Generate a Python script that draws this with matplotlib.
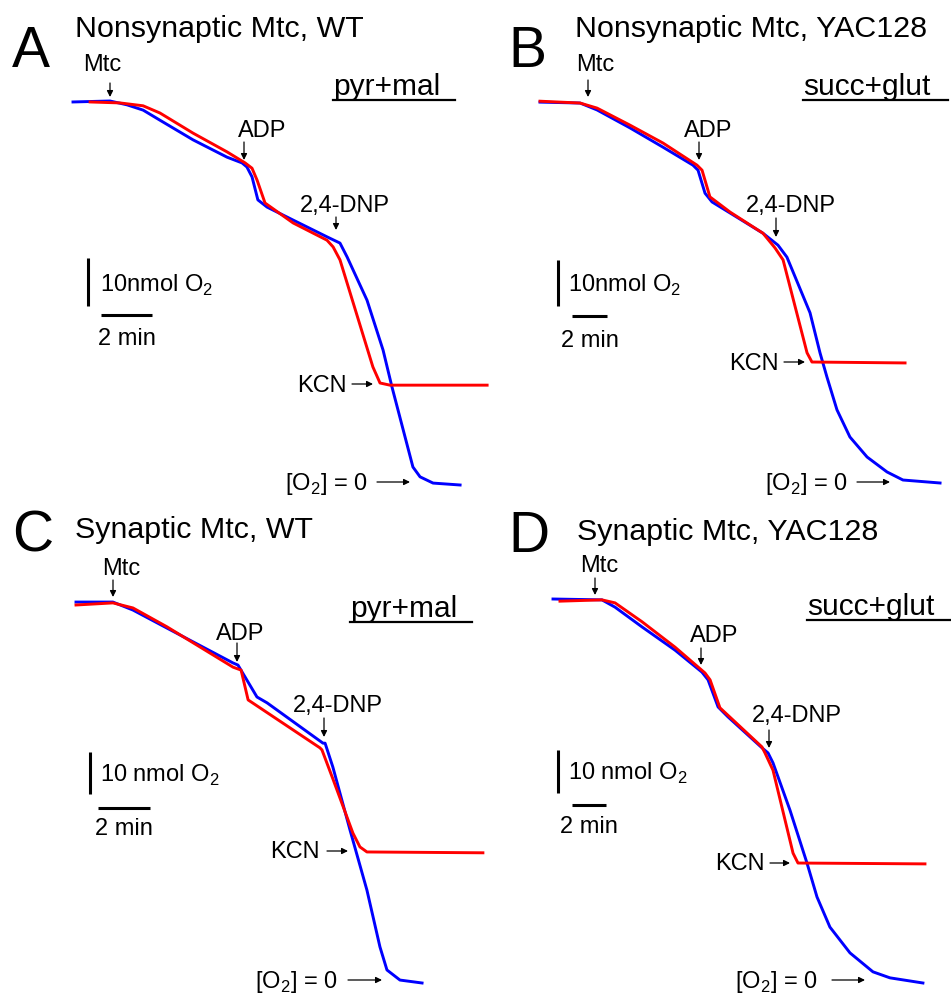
import numpy as np
import matplotlib.pyplot as plt

plt.rcParams['font.family'] = ['Liberation Sans', 'DejaVu Sans']
plt.rcParams['mathtext.fontset'] = 'custom'
plt.rcParams['mathtext.rm'] = 'Liberation Sans'

# O2 traces: time (min) vs O2 in chamber (nmol)
# panel A - nonsynaptic, WT, pyr+mal
a_blue_t = [0, 1.45, 2.12, 2.75, 3.41, 4.71, 6.04, 6.63, 6.82, 7.02, 7.25, 7.61, 8.63, 9.96, 10.47,
            10.75, 11.53, 12.16, 12.51, 13.33, 13.61, 14.12, 15.18]
a_blue_o2 = [79.8, 80.0, 79.2, 78.1, 76.0, 71.9, 68.3, 67.1, 66.25, 64.2, 59.4, 57.9, 55.2, 51.7, 50.4,
             47.5, 38.5, 28.1, 20.4, 3.75, 1.7, 0.4, 0]
a_red_t = [0.67, 1.84, 2.75, 3.41, 4.71, 6.04, 6.75, 7.02, 7.22, 7.53, 8.63, 9.96, 10.20, 10.47,
           11.76, 12.04, 12.43, 16.24]
a_red_o2 = [79.8, 79.6, 79.0, 77.5, 73.3, 69.4, 67.1, 66.0, 63.5, 58.75, 54.6, 51.0, 49.6, 46.9,
            24.6, 21.25, 20.8, 20.8]

# panel B - nonsynaptic, YAC128, succ+glut
b_blue_t = [0, 2.29, 3.26, 5.14, 7.03, 8.74, 9.03, 9.43, 9.83, 10.86, 12.74, 13.6, 14.11, 15.43,
            16.0, 16.4, 16.97, 17.71, 18.69, 19.83, 20.74, 22.86]
b_blue_o2 = [82.8, 82.6, 81.1, 77.2, 73.0, 69.1, 68.0, 63.0, 61.1, 58.7, 54.3, 51.7, 49.1, 37.0,
             28.3, 23.0, 15.9, 10.0, 5.65, 2.4, 0.65, 0]
b_red_t = [0, 2.29, 3.26, 5.14, 7.03, 8.97, 9.26, 9.71, 10.86, 12.74, 13.43, 13.89, 15.26, 15.54, 20.86]
b_red_o2 = [83.0, 82.6, 81.5, 77.8, 73.9, 69.1, 68.0, 62.2, 58.9, 54.3, 51.1, 48.5, 28.3, 26.3, 26.1]

# panel C - synaptic, WT, pyr+mal
c_blue_t = [0, 1.42, 2.19, 3.5, 6.04, 6.23, 6.96, 7.35, 9.5, 9.58, 9.88, 10.54, 11.19, 11.69,
            11.96, 12.46, 13.31]
c_blue_o2 = [90.7, 90.7, 88.8, 84.5, 76.2, 75.7, 68.1, 66.7, 57.1, 57.1, 51.4, 36.4, 22.1, 8.6,
             3.1, 0.7, 0]
c_red_t = [0, 1.42, 2.19, 3.5, 6.04, 6.35, 6.62, 9.38, 9.46, 9.88, 10.65, 10.92, 11.19, 15.65]
c_red_o2 = [90.0, 90.5, 89.3, 84.8, 75.2, 74.5, 67.4, 56.0, 55.5, 48.6, 35.7, 32.4, 31.2, 31.0]

# panel D - synaptic, YAC128, succ+glut
d_blue_t = [0, 2.88, 3.65, 5.24, 7.18, 8.76, 9.12, 9.71, 10.29, 12.29, 12.65, 12.94, 13.94, 14.94,
            15.53, 16.29, 17.47, 18.82, 19.82, 21.76]
d_blue_o2 = [89.3, 89.1, 87.4, 82.8, 77.4, 72.3, 70.5, 64.2, 61.9, 54.7, 53.5, 51.2, 40.2, 27.9,
             20.0, 13.0, 7.0, 2.6, 1.2, 0]
d_red_t = [0.41, 2.88, 3.65, 5.24, 7.18, 8.94, 9.24, 9.82, 12.29, 12.47, 12.94, 14.12, 14.41, 21.88]
d_red_o2 = [88.8, 89.1, 88.4, 84.0, 78.1, 72.1, 70.5, 64.0, 54.9, 53.5, 49.5, 30.2, 27.9, 27.7]

letters = ['A', 'B', 'C', 'D']
titles = ['Nonsynaptic Mtc, WT', 'Nonsynaptic Mtc, YAC128',
          'Synaptic Mtc, WT', 'Synaptic Mtc, YAC128']
substrates = ['pyr+mal', 'succ+glut', 'pyr+mal', 'succ+glut']
scale_labels = [r'10nmol O$_{\mathregular{2}}$', r'10nmol O$_{\mathregular{2}}$',
                r'10 nmol O$_{\mathregular{2}}$', r'10 nmol O$_{\mathregular{2}}$']
traces = [(a_blue_t, a_blue_o2, a_red_t, a_red_o2),
          (b_blue_t, b_blue_o2, b_red_t, b_red_o2),
          (c_blue_t, c_blue_o2, c_red_t, c_red_o2),
          (d_blue_t, d_blue_o2, d_red_t, d_red_o2)]

W, H = 951, 1000
fig = plt.figure(figsize=(W / 100, H / 100), dpi=100)

# pixel mapping of each panel: x of t=0, px per min, y of O2=0, px per nmol
mapping = [(73, 25.5, 485, 4.8), (540, 17.5, 483, 4.6),
           (76, 26.0, 983, 4.2), (553, 17.0, 983, 4.3)]

# label layout per panel (pixels)
layout = [
    dict(letter=(12, 67), title=(75, 37), mtc=(102, 71, 110, 83, 97), adp=(262, 137, 244, 142, 160),
         dnp=(345, 212, 336, 217, 230), sub=(333, 95, 455), vbar=(88, 306), hbar=(101, 315),
         vtxt=(100, 292), htxt=(127, 345), kcn=(347, 392, 352, 373, 384),
         zero=(285, 490, 377, 410, 482)),
    dict(letter=(508, 67), title=(575, 37), mtc=(595, 71, 588, 80, 97), adp=(708, 137, 699, 142, 160),
         dnp=(791, 212, 776, 218, 237), sub=(803, 95, 948), vbar=(558, 306), hbar=(572, 316),
         vtxt=(568, 292), htxt=(590, 347), kcn=(779, 370, 784, 805, 362),
         zero=(765, 490, 857, 890, 482)),
    dict(letter=(12, 552), title=(75, 538), mtc=(121, 575, 113, 580, 597), adp=(240, 640, 237, 643, 662),
         dnp=(338, 712, 324, 718, 737), sub=(350, 617, 472), vbar=(90, 794), hbar=(98, 808),
         vtxt=(100, 782), htxt=(124, 835), kcn=(320, 858, 327, 348, 851),
         zero=(255, 988, 348, 382, 980)),
    dict(letter=(508, 552), title=(577, 540), mtc=(599, 572, 595, 578, 595), adp=(714, 642, 701, 648, 665),
         dnp=(797, 722, 769, 730, 748), sub=(807, 615, 951), vbar=(558, 793), hbar=(572, 805),
         vtxt=(568, 780), htxt=(589, 833), kcn=(765, 870, 770, 790, 863),
         zero=(735, 988, 832, 865, 980)),
]

for i in range(4):
    x0, ppm, y0, ppn = mapping[i]
    ax = fig.add_axes([0, 0, 1, 1])
    ax.set_xlim(-x0 / ppm, (W - x0) / ppm)
    ax.set_ylim((y0 - H) / ppn, y0 / ppn)
    ax.axis('off')
    bt, bo, rt, ro = traces[i]
    ax.plot(bt, bo, color='#0000ff', lw=2.1, solid_joinstyle='round')
    ax.plot(rt, ro, color='#ff0000', lw=2.1, solid_joinstyle='round')

    # scale bars: 10 nmol O2 and 2 min
    L = layout[i]
    vx = (L['vbar'][0] - x0) / ppm
    vy = (y0 - L['vbar'][1]) / ppn
    ax.plot([vx, vx], [vy, vy + 10], color='k', lw=2.2, solid_capstyle='butt')
    hx = (L['hbar'][0] - x0) / ppm
    hy = (y0 - L['hbar'][1]) / ppn
    ax.plot([hx, hx + 2], [hy, hy], color='k', lw=2.2, solid_capstyle='butt')

# overlay for text and arrows in pixel units
lay = fig.add_axes([0, 0, 1, 1])
lay.set_xlim(0, W)
lay.set_ylim(H, 0)
lay.axis('off')

arr = dict(arrowstyle='-|>', color='k', lw=0.9, mutation_scale=9, shrinkA=0, shrinkB=0)
fs = 17

for i in range(4):
    L = layout[i]
    lay.text(L['letter'][0], L['letter'][1], letters[i], fontsize=41, va='baseline', ha='left')
    lay.text(L['title'][0], L['title'][1], titles[i], fontsize=21.9, va='baseline', ha='left')
    for key, lab in [('mtc', 'Mtc'), ('adp', 'ADP'), ('dnp', '2,4-DNP')]:
        tx, ty, ax_, a1, a2 = L[key]
        lay.text(tx, ty, lab, fontsize=fs, ha='center', va='baseline')
        lay.annotate('', xy=(ax_, a2), xytext=(ax_, a1), arrowprops=arr)
    sx, sy, sx2 = L['sub']
    lay.text(sx, sy, substrates[i], fontsize=21.5, ha='left', va='baseline')
    lay.plot([sx, sx2], [sy + 5, sy + 5], color='k', lw=1.6)
    lay.text(L['vtxt'][0], L['vtxt'][1], scale_labels[i], fontsize=fs, ha='left', va='baseline')
    lay.text(L['htxt'][0], L['htxt'][1], '2 min', fontsize=fs, ha='center', va='baseline')
    kx, ky, k1, k2, kyy = L['kcn']
    lay.text(kx, ky, 'KCN', fontsize=fs, ha='right', va='baseline')
    lay.annotate('', xy=(k2, kyy), xytext=(k1, kyy), arrowprops=arr)
    zx, zy, z1, z2, zyy = L['zero']
    lay.text(zx, zy, r'[O$_{\mathregular{2}}$] = 0', fontsize=fs, ha='left', va='baseline')
    lay.annotate('', xy=(z2, zyy), xytext=(z1, zyy), arrowprops=arr)

plt.savefig('out.png', dpi=100)
